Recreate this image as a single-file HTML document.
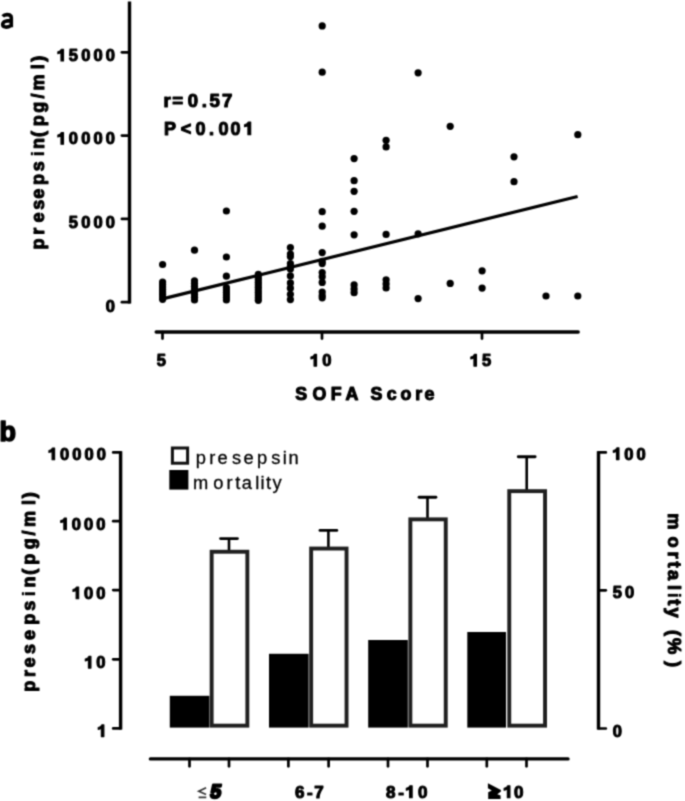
<!DOCTYPE html>
<html><head><meta charset="utf-8"><style>
html,body{margin:0;padding:0;background:#fff;}
svg{display:block;}
text{font-family:"Liberation Sans", sans-serif;}
text{stroke:#000;stroke-width:0.3px;stroke-linejoin:round;}
text[font-weight=bold]{stroke-width:1.1px;}
tspan.h,text.hid{fill:none;stroke:none;}
tspan.ti{stroke-width:0.3px;}
</style></head><body>
<svg width="685" height="801" viewBox="0 0 685 801">
<defs><filter id="soft" x="0" y="0" width="685" height="801" filterUnits="userSpaceOnUse" color-interpolation-filters="sRGB"><feConvolveMatrix order="3" kernelMatrix="1 3 1 3 9 3 1 3 1" divisor="25" edgeMode="duplicate"/></filter></defs>
<g filter="url(#soft)">
<rect width="685" height="801" fill="#fff"/>
<text x="0.8" y="28" font-size="27" font-weight="bold" class="hid">a</text>
<path d="M2.7,16.4 C4.7,14.2 9.4,13.9 10.9,16.1 L11.3,17.8 L11.3,27.3 M11.1,20.6 C6.4,20.5 2.7,21.5 2.7,24.6 C2.7,27.6 7.4,27.9 11.0,25.5" fill="none" stroke="#000" stroke-width="3.6"/>
<line x1="129.5" y1="1.4" x2="129.5" y2="303.5" stroke="#000" stroke-width="3.4"/>
<line x1="121.9" y1="52.3" x2="129.5" y2="52.3" stroke="#000" stroke-width="2.7" stroke-linecap="round"/>
<text x="56.79 68.87 81.15 93.42 105.7" y="60.9" font-size="16.5" font-weight="bold" fill="#000"><tspan class="h">1</tspan>5000</text>
<path class="g1" d="M0.42,0 L0.42,0.708 L0.29,0.708 C0.26,0.62 0.17,0.57 0.075,0.555 L0.075,0.44 C0.15,0.45 0.22,0.48 0.265,0.52 L0.265,0 Z" transform="translate(56.6,60.9) scale(16.5,-16.5)" fill="#000" stroke="#000" stroke-linejoin="round" stroke-width="0.0667"/>
<line x1="121.9" y1="135.6" x2="129.5" y2="135.6" stroke="#000" stroke-width="2.7" stroke-linecap="round"/>
<text x="56.79 68.87 81.15 93.42 105.7" y="144.2" font-size="16.5" font-weight="bold" fill="#000"><tspan class="h">1</tspan>0000</text>
<path class="g1" d="M0.42,0 L0.42,0.708 L0.29,0.708 C0.26,0.62 0.17,0.57 0.075,0.555 L0.075,0.44 C0.15,0.45 0.22,0.48 0.265,0.52 L0.265,0 Z" transform="translate(56.6,144.2) scale(16.5,-16.5)" fill="#000" stroke="#000" stroke-linejoin="round" stroke-width="0.0667"/>
<line x1="121.9" y1="218.9" x2="129.5" y2="218.9" stroke="#000" stroke-width="2.7" stroke-linecap="round"/>
<text x="68.87 81.15 93.42 105.7" y="227.8" font-size="16.5" font-weight="bold" fill="#000">5000</text>
<line x1="121.9" y1="302.2" x2="129.5" y2="302.2" stroke="#000" stroke-width="2.7" stroke-linecap="round"/>
<text x="105.7" y="311.6" font-size="16.5" font-weight="bold" fill="#000">0</text>
<line x1="156.2" y1="332.0" x2="578.2" y2="332.0" stroke="#000" stroke-width="3.4" stroke-linecap="round"/>
<line x1="162.5" y1="332.0" x2="162.5" y2="338.6" stroke="#000" stroke-width="2.7" stroke-linecap="round"/>
<line x1="322" y1="332.0" x2="322" y2="338.6" stroke="#000" stroke-width="2.7" stroke-linecap="round"/>
<line x1="482" y1="332.0" x2="482" y2="338.6" stroke="#000" stroke-width="2.7" stroke-linecap="round"/>
<text x="156.69" y="366.1" font-size="16.5" font-weight="bold" fill="#000">5</text>
<text x="309.86 322.25" y="366.1" font-size="16.5" font-weight="bold" fill="#000"><tspan class="h">1</tspan>0</text>
<path class="g1" d="M0.42,0 L0.42,0.708 L0.29,0.708 C0.26,0.62 0.17,0.57 0.075,0.555 L0.075,0.44 C0.15,0.45 0.22,0.48 0.265,0.52 L0.265,0 Z" transform="translate(309.66,366.1) scale(16.5,-16.5)" fill="#000" stroke="#000" stroke-linejoin="round" stroke-width="0.0667"/>
<text x="469.76 482.09" y="366.1" font-size="16.5" font-weight="bold" fill="#000"><tspan class="h">1</tspan>5</text>
<path class="g1" d="M0.42,0 L0.42,0.708 L0.29,0.708 C0.26,0.62 0.17,0.57 0.075,0.555 L0.075,0.44 C0.15,0.45 0.22,0.48 0.265,0.52 L0.265,0 Z" transform="translate(469.56,366.1) scale(16.5,-16.5)" fill="#000" stroke="#000" stroke-linejoin="round" stroke-width="0.0667"/>
<text x="295.19 312.47 330.71 345.46 358.31 370.59 386.8 400.6 415.33 424.5" y="400.3" font-size="17.8" font-weight="bold" fill="#000">SOFA Score</text>
<g transform="rotate(-90)">
<text x="-249.39 -234.69 -222.4 -209.83 -198.8 -184.89 -171.23 -156.36 -148.89 -137 -126.29 -112.74 -98.48 -90.59 -69.36 -61.72" y="44.2" font-size="18" font-weight="bold" fill="#000">preseps<tspan class="ti">i</tspan>n(pg/ml)</text>
</g>
<text x="163.57 172.23 187.66 201.74 209.43 222.1" y="107" font-size="18.6" font-weight="bold" fill="#000">r=0.57</text>
<text x="164.1 180.64 195.39 208.98 218.59 230.49 243.37" y="134.7" font-size="18" font-weight="bold" fill="#000">P&lt;0.00<tspan class="h">1</tspan></text>
<path class="g1" d="M0.42,0 L0.42,0.708 L0.29,0.708 C0.26,0.62 0.17,0.57 0.075,0.555 L0.075,0.44 C0.15,0.45 0.22,0.48 0.265,0.52 L0.265,0 Z" transform="translate(243.15,134.7) scale(18,-18)" fill="#000" stroke="#000" stroke-linejoin="round" stroke-width="0.0611"/>
<line x1="162.5" y1="298.9" x2="577.6" y2="196.5" stroke="#000" stroke-width="3.2"/>
<g fill="#000"><circle cx="162.6" cy="264.5" r="3.6"/><circle cx="162.6" cy="282" r="3.6"/><circle cx="162.6" cy="284.47" r="3.6"/><circle cx="162.6" cy="286.94" r="3.6"/><circle cx="162.6" cy="289.41" r="3.6"/><circle cx="162.6" cy="291.89" r="3.6"/><circle cx="162.6" cy="294.36" r="3.6"/><circle cx="162.6" cy="296.83" r="3.6"/><circle cx="162.6" cy="299.3" r="3.6"/><circle cx="194.5" cy="250.2" r="3.6"/><circle cx="194.5" cy="280.8" r="3.6"/><circle cx="194.5" cy="283.54" r="3.6"/><circle cx="194.5" cy="286.29" r="3.6"/><circle cx="194.5" cy="289.03" r="3.6"/><circle cx="194.5" cy="291.77" r="3.6"/><circle cx="194.5" cy="294.51" r="3.6"/><circle cx="194.5" cy="297.26" r="3.6"/><circle cx="194.5" cy="300" r="3.6"/><circle cx="226.4" cy="211" r="3.6"/><circle cx="226.4" cy="257" r="3.6"/><circle cx="226.4" cy="276.2" r="3.6"/><circle cx="226.4" cy="287.5" r="3.6"/><circle cx="226.4" cy="290" r="3.6"/><circle cx="226.4" cy="292.5" r="3.6"/><circle cx="226.4" cy="295" r="3.6"/><circle cx="226.4" cy="297.5" r="3.6"/><circle cx="226.4" cy="300" r="3.6"/><circle cx="258.3" cy="274.4" r="3.6"/><circle cx="258.3" cy="276.99" r="3.6"/><circle cx="258.3" cy="279.58" r="3.6"/><circle cx="258.3" cy="282.17" r="3.6"/><circle cx="258.3" cy="284.76" r="3.6"/><circle cx="258.3" cy="287.35" r="3.6"/><circle cx="258.3" cy="289.94" r="3.6"/><circle cx="258.3" cy="292.53" r="3.6"/><circle cx="258.3" cy="295.12" r="3.6"/><circle cx="258.3" cy="297.71" r="3.6"/><circle cx="258.3" cy="300.3" r="3.6"/><circle cx="290.4" cy="247.5" r="3.6"/><circle cx="290.4" cy="254" r="3.6"/><circle cx="290.4" cy="256.6" r="3.6"/><circle cx="290.4" cy="263.6" r="3.6"/><circle cx="290.4" cy="266.3" r="3.6"/><circle cx="290.4" cy="268.9" r="3.6"/><circle cx="290.4" cy="275.9" r="3.6"/><circle cx="290.4" cy="282.9" r="3.6"/><circle cx="290.4" cy="288.2" r="3.6"/><circle cx="290.4" cy="294.3" r="3.6"/><circle cx="290.4" cy="299.6" r="3.6"/><circle cx="322.2" cy="25.9" r="3.6"/><circle cx="322.2" cy="72.2" r="3.6"/><circle cx="322.2" cy="211.7" r="3.6"/><circle cx="322.2" cy="226.2" r="3.6"/><circle cx="322.2" cy="252.6" r="3.6"/><circle cx="322.2" cy="261.4" r="3.6"/><circle cx="322.2" cy="263.6" r="3.6"/><circle cx="322.2" cy="272.6" r="3.6"/><circle cx="322.2" cy="276.7" r="3.6"/><circle cx="322.2" cy="282.4" r="3.6"/><circle cx="322.2" cy="292" r="3.6"/><circle cx="322.2" cy="295.5" r="3.6"/><circle cx="322.2" cy="297.8" r="3.6"/><circle cx="354.1" cy="158.6" r="3.6"/><circle cx="354.1" cy="180.7" r="3.6"/><circle cx="354.1" cy="191.3" r="3.6"/><circle cx="354.1" cy="211.3" r="3.6"/><circle cx="354.1" cy="234.8" r="3.6"/><circle cx="354.1" cy="284.9" r="3.6"/><circle cx="354.1" cy="289" r="3.6"/><circle cx="354.1" cy="292.7" r="3.6"/><circle cx="386.1" cy="140.3" r="3.6"/><circle cx="386.1" cy="146.9" r="3.6"/><circle cx="386.1" cy="234.4" r="3.6"/><circle cx="386.1" cy="279.8" r="3.6"/><circle cx="386.1" cy="283.9" r="3.6"/><circle cx="386.1" cy="288" r="3.6"/><circle cx="418.1" cy="72.8" r="3.6"/><circle cx="418.1" cy="233.8" r="3.6"/><circle cx="418.1" cy="298.6" r="3.6"/><circle cx="450.2" cy="126.3" r="3.6"/><circle cx="450.2" cy="283.4" r="3.6"/><circle cx="482.1" cy="270.8" r="3.6"/><circle cx="482.1" cy="288.1" r="3.6"/><circle cx="514" cy="156.8" r="3.6"/><circle cx="514" cy="181.7" r="3.6"/><circle cx="546" cy="296" r="3.6"/><circle cx="577.8" cy="134.7" r="3.6"/><circle cx="577.8" cy="296" r="3.6"/></g>
<text x="-0.4" y="441.4" font-size="27" font-weight="bold" style="stroke-width:1.5px">b</text>
<line x1="120.6" y1="451.2" x2="120.6" y2="729.6" stroke="#000" stroke-width="3.4"/>
<line x1="113.2" y1="452.4" x2="120.6" y2="452.4" stroke="#000" stroke-width="2.7" stroke-linecap="round"/>
<text x="47.89 59.97 72.25 84.52 96.8" y="459.7" font-size="16.5" font-weight="bold" fill="#000"><tspan class="h">1</tspan>0000</text>
<path class="g1" d="M0.42,0 L0.42,0.708 L0.29,0.708 C0.26,0.62 0.17,0.57 0.075,0.555 L0.075,0.44 C0.15,0.45 0.22,0.48 0.265,0.52 L0.265,0 Z" transform="translate(47.7,459.7) scale(16.5,-16.5)" fill="#000" stroke="#000" stroke-linejoin="round" stroke-width="0.0667"/>
<line x1="113.2" y1="521.2" x2="120.6" y2="521.2" stroke="#000" stroke-width="2.7" stroke-linecap="round"/>
<text x="59.67 71.75 84.02 96.3" y="529.8" font-size="16.5" font-weight="bold" fill="#000"><tspan class="h">1</tspan>000</text>
<path class="g1" d="M0.42,0 L0.42,0.708 L0.29,0.708 C0.26,0.62 0.17,0.57 0.075,0.555 L0.075,0.44 C0.15,0.45 0.22,0.48 0.265,0.52 L0.265,0 Z" transform="translate(59.47,529.8) scale(16.5,-16.5)" fill="#000" stroke="#000" stroke-linejoin="round" stroke-width="0.0667"/>
<line x1="113.2" y1="590.1" x2="120.6" y2="590.1" stroke="#000" stroke-width="2.7" stroke-linecap="round"/>
<text x="71.95 84.02 96.3" y="598.7" font-size="16.5" font-weight="bold" fill="#000"><tspan class="h">1</tspan>00</text>
<path class="g1" d="M0.42,0 L0.42,0.708 L0.29,0.708 C0.26,0.62 0.17,0.57 0.075,0.555 L0.075,0.44 C0.15,0.45 0.22,0.48 0.265,0.52 L0.265,0 Z" transform="translate(71.75,598.7) scale(16.5,-16.5)" fill="#000" stroke="#000" stroke-linejoin="round" stroke-width="0.0667"/>
<line x1="113.2" y1="659.3" x2="120.6" y2="659.3" stroke="#000" stroke-width="2.7" stroke-linecap="round"/>
<text x="84.22 96.3" y="668.1" font-size="16.5" font-weight="bold" fill="#000"><tspan class="h">1</tspan>0</text>
<path class="g1" d="M0.42,0 L0.42,0.708 L0.29,0.708 C0.26,0.62 0.17,0.57 0.075,0.555 L0.075,0.44 C0.15,0.45 0.22,0.48 0.265,0.52 L0.265,0 Z" transform="translate(84.03,668.1) scale(16.5,-16.5)" fill="#000" stroke="#000" stroke-linejoin="round" stroke-width="0.0667"/>
<line x1="113.2" y1="728.4" x2="120.6" y2="728.4" stroke="#000" stroke-width="2.7" stroke-linecap="round"/>
<text x="97.17" y="736.6" font-size="16.5" font-weight="bold" fill="#000"><tspan class="h">1</tspan></text>
<path class="g1" d="M0.42,0 L0.42,0.708 L0.29,0.708 C0.26,0.62 0.17,0.57 0.075,0.555 L0.075,0.44 C0.15,0.45 0.22,0.48 0.265,0.52 L0.265,0 Z" transform="translate(96.97,736.6) scale(16.5,-16.5)" fill="#000" stroke="#000" stroke-linejoin="round" stroke-width="0.0667"/>
<g transform="rotate(-90)">
<text x="-691.69 -676.99 -667.6 -654.03 -639.9 -624.69 -610.63 -596.36 -587.39 -574.7 -564.69 -549.14 -535.58 -526.99 -505.06 -498.32" y="34.8" font-size="18" font-weight="bold" fill="#000">preseps<tspan class="ti">i</tspan>n(pg/ml)</text>
</g>
<line x1="598.5" y1="451.2" x2="598.5" y2="729.6" stroke="#000" stroke-width="3.4"/>
<line x1="598.5" y1="452.4" x2="605.8" y2="452.4" stroke="#000" stroke-width="2.7" stroke-linecap="round"/>
<text x="612.26 624.34 636.61" y="459.6" font-size="16.5" font-weight="bold" fill="#000"><tspan class="h">1</tspan>00</text>
<path class="g1" d="M0.42,0 L0.42,0.708 L0.29,0.708 C0.26,0.62 0.17,0.57 0.075,0.555 L0.075,0.44 C0.15,0.45 0.22,0.48 0.265,0.52 L0.265,0 Z" transform="translate(612.06,459.6) scale(16.5,-16.5)" fill="#000" stroke="#000" stroke-linejoin="round" stroke-width="0.0667"/>
<line x1="598.5" y1="590.3" x2="605.8" y2="590.3" stroke="#000" stroke-width="2.7" stroke-linecap="round"/>
<text x="612.79 625.07" y="598.2" font-size="16.5" font-weight="bold" fill="#000">50</text>
<line x1="598.5" y1="728.5" x2="605.8" y2="728.5" stroke="#000" stroke-width="2.7" stroke-linecap="round"/>
<text x="612.65" y="736.8" font-size="16.5" font-weight="bold" fill="#000">0</text>
<g transform="rotate(90)">
<text x="513.19 536.49 551.39 561.38 570.06 584.92 592.72 599.18 607.56 617.73 629.89 638.04 660.98" y="-668" font-size="18.3" font-weight="bold" fill="#000">mortal<tspan class="ti">i</tspan>ty (%)</text>
</g>
<rect x="172.4" y="448" width="15.2" height="15.2" fill="#fff" stroke="#111" stroke-width="3.0"/>
<rect x="169.3" y="470" width="19.1" height="19.6" fill="#000"/>
<text x="195.82 209.28 217.62 231.89 243.52 256.92 271.19 282.68 288.38" y="464.3" font-size="18.3" fill="#000">presepsin</text>
<text x="193.08 213.23 226.38 235.22 241.72 255.17 260.38 266.12 272.56" y="489.4" font-size="18.3" fill="#000">mortality</text>
<rect x="169.8" y="695.8" width="39.6" height="31.8" fill="#000"/>
<rect x="269.0" y="653.8" width="39.6" height="73.8" fill="#000"/>
<rect x="368.2" y="640.0" width="39.6" height="87.6" fill="#000"/>
<rect x="467.3" y="632.0" width="38.7" height="95.6" fill="#000"/>
<line x1="229" y1="550.8" x2="229" y2="538.6" stroke="#000" stroke-width="2.6"/>
<line x1="220.6" y1="538.6" x2="237.4" y2="538.6" stroke="#000" stroke-width="2.9" stroke-linecap="round"/>
<rect x="211.65" y="551.75" width="35.7" height="173.9" fill="#fff" stroke="#202020" stroke-width="3.9"/>
<line x1="328.4" y1="547.6" x2="328.4" y2="530.4" stroke="#000" stroke-width="2.6"/>
<line x1="320" y1="530.4" x2="336.8" y2="530.4" stroke="#000" stroke-width="2.9" stroke-linecap="round"/>
<rect x="311.15" y="548.55" width="35.4" height="177.1" fill="#fff" stroke="#202020" stroke-width="3.9"/>
<line x1="427.5" y1="518.4" x2="427.5" y2="497.3" stroke="#000" stroke-width="2.6"/>
<line x1="419.1" y1="497.3" x2="435.9" y2="497.3" stroke="#000" stroke-width="2.9" stroke-linecap="round"/>
<rect x="410.35" y="519.35" width="35.4" height="206.3" fill="#fff" stroke="#202020" stroke-width="3.9"/>
<line x1="526.7" y1="490.2" x2="526.7" y2="456.8" stroke="#000" stroke-width="2.6"/>
<line x1="518.3" y1="456.8" x2="535.1" y2="456.8" stroke="#000" stroke-width="2.9" stroke-linecap="round"/>
<rect x="509.25" y="491.15" width="35.8" height="234.5" fill="#fff" stroke="#202020" stroke-width="3.9"/>
<line x1="150.4" y1="758.9" x2="568" y2="758.9" stroke="#000" stroke-width="3.4" stroke-linecap="round"/>
<line x1="189.5" y1="758.9" x2="189.5" y2="766.3" stroke="#000" stroke-width="2.7" stroke-linecap="round"/>
<line x1="229" y1="758.9" x2="229" y2="766.3" stroke="#000" stroke-width="2.7" stroke-linecap="round"/>
<line x1="288.4" y1="758.9" x2="288.4" y2="766.3" stroke="#000" stroke-width="2.7" stroke-linecap="round"/>
<line x1="328.6" y1="758.9" x2="328.6" y2="766.3" stroke="#000" stroke-width="2.7" stroke-linecap="round"/>
<line x1="388" y1="758.9" x2="388" y2="766.3" stroke="#000" stroke-width="2.7" stroke-linecap="round"/>
<line x1="427.5" y1="758.9" x2="427.5" y2="766.3" stroke="#000" stroke-width="2.7" stroke-linecap="round"/>
<line x1="486.8" y1="758.9" x2="486.8" y2="766.3" stroke="#000" stroke-width="2.7" stroke-linecap="round"/>
<line x1="526.5" y1="758.9" x2="526.5" y2="766.3" stroke="#000" stroke-width="2.7" stroke-linecap="round"/>
<text x="198" y="798" font-size="16" class="hid">&#8804;</text>
<path d="M206.1,787.8 L198.8,791.3 L206.1,794.6 M198.6,797.4 L206.3,797.4" fill="none" stroke="#333" stroke-width="1.7"/>
<text x="0" y="0" font-size="19.5" font-weight="bold" transform="translate(209.6,798.2) skewX(-9)" style="stroke-width:2.2px">5</text>
<text x="294.98 307.04 314.27" y="797.8" font-size="17" font-weight="bold" fill="#000">6-7</text>
<text x="386.06 398.34 405.23 418.03" y="797.8" font-size="17" font-weight="bold" fill="#000">8-<tspan class="h">1</tspan>0</text>
<path class="g1" d="M0.42,0 L0.42,0.708 L0.29,0.708 C0.26,0.62 0.17,0.57 0.075,0.555 L0.075,0.44 C0.15,0.45 0.22,0.48 0.265,0.52 L0.265,0 Z" transform="translate(405.02,797.8) scale(17,-17)" fill="#000" stroke="#000" stroke-linejoin="round" stroke-width="0.0647"/>
<path d="M487.9,783.2 L500.9,790.0 L500.9,791.6 L497.3,794.2 L500.6,795.6 L500.6,799.0 L488.2,799.0 L488.2,792.2 L491.8,790.4 L487.9,788.2 Z" fill="#000"/>
<text x="487.99 503.03 514.03" y="797.8" font-size="17" font-weight="bold" fill="#000"><tspan class="h">≥</tspan><tspan class="h">1</tspan>0</text>
<path class="g1" d="M0.42,0 L0.42,0.708 L0.29,0.708 C0.26,0.62 0.17,0.57 0.075,0.555 L0.075,0.44 C0.15,0.45 0.22,0.48 0.265,0.52 L0.265,0 Z" transform="translate(502.82,797.8) scale(17,-17)" fill="#000" stroke="#000" stroke-linejoin="round" stroke-width="0.0647"/>
</g>
</svg>
</body></html>
